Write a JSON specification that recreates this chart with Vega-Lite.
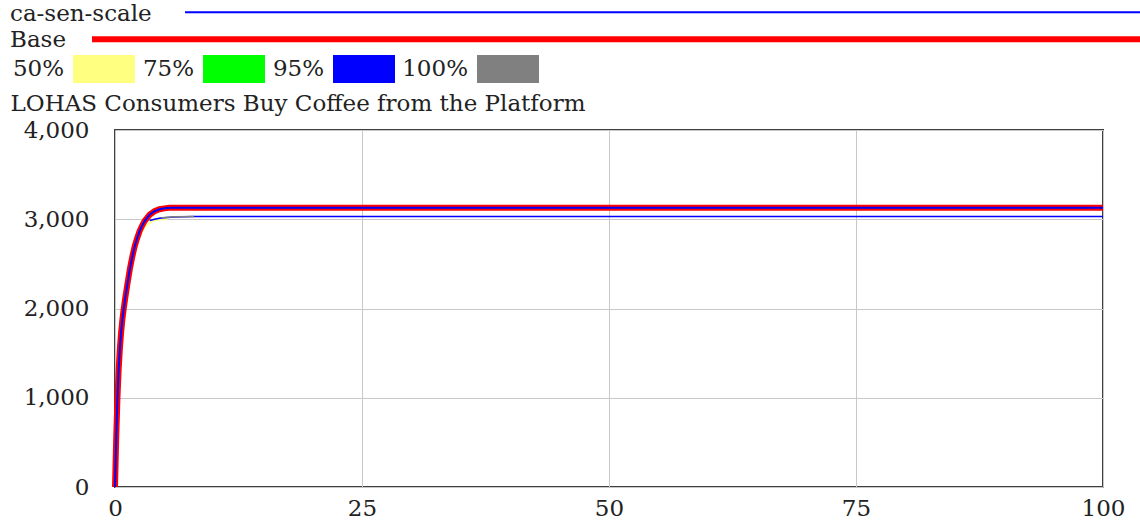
{
  "$schema": "https://vega.github.io/schema/vega-lite/v6.json",
  "width": 988,
  "height": 357,
  "autosize": {"type": "none"},
  "padding": {"left": 115, "top": 130, "right": 37, "bottom": 38},
  "background": "#ffffff",
  "datasets": {
    "runs": [
      {"series": "Base", "t": 0, "v": 0},
      {"series": "Base", "t": 0.125, "v": 560},
      {"series": "Base", "t": 0.25, "v": 1000},
      {"series": "Base", "t": 0.375, "v": 1330},
      {"series": "Base", "t": 0.5, "v": 1560},
      {"series": "Base", "t": 0.625, "v": 1740},
      {"series": "Base", "t": 0.75, "v": 1880},
      {"series": "Base", "t": 0.875, "v": 1990},
      {"series": "Base", "t": 1, "v": 2090},
      {"series": "Base", "t": 1.25, "v": 2270},
      {"series": "Base", "t": 1.5, "v": 2440},
      {"series": "Base", "t": 1.75, "v": 2580},
      {"series": "Base", "t": 2, "v": 2700},
      {"series": "Base", "t": 2.25, "v": 2790},
      {"series": "Base", "t": 2.5, "v": 2870},
      {"series": "Base", "t": 2.75, "v": 2930},
      {"series": "Base", "t": 3, "v": 2980},
      {"series": "Base", "t": 3.5, "v": 3050},
      {"series": "Base", "t": 4, "v": 3090},
      {"series": "Base", "t": 4.5, "v": 3112},
      {"series": "Base", "t": 5, "v": 3122},
      {"series": "Base", "t": 5.5, "v": 3128},
      {"series": "Base", "t": 6, "v": 3130},
      {"series": "Base", "t": 100, "v": 3130},
      {"series": "ca-sen-scale", "t": 0, "v": 0},
      {"series": "ca-sen-scale", "t": 0.125, "v": 560},
      {"series": "ca-sen-scale", "t": 0.25, "v": 1000},
      {"series": "ca-sen-scale", "t": 0.375, "v": 1330},
      {"series": "ca-sen-scale", "t": 0.5, "v": 1560},
      {"series": "ca-sen-scale", "t": 0.625, "v": 1740},
      {"series": "ca-sen-scale", "t": 0.75, "v": 1880},
      {"series": "ca-sen-scale", "t": 0.875, "v": 1990},
      {"series": "ca-sen-scale", "t": 1, "v": 2090},
      {"series": "ca-sen-scale", "t": 1.25, "v": 2270},
      {"series": "ca-sen-scale", "t": 1.5, "v": 2440},
      {"series": "ca-sen-scale", "t": 1.75, "v": 2580},
      {"series": "ca-sen-scale", "t": 2, "v": 2700},
      {"series": "ca-sen-scale", "t": 2.25, "v": 2790},
      {"series": "ca-sen-scale", "t": 2.5, "v": 2870},
      {"series": "ca-sen-scale", "t": 2.75, "v": 2930},
      {"series": "ca-sen-scale", "t": 3, "v": 2980},
      {"series": "ca-sen-scale", "t": 3.5, "v": 3050},
      {"series": "ca-sen-scale", "t": 4, "v": 3090},
      {"series": "ca-sen-scale", "t": 4.5, "v": 3112},
      {"series": "ca-sen-scale", "t": 5, "v": 3122},
      {"series": "ca-sen-scale", "t": 5.5, "v": 3128},
      {"series": "ca-sen-scale", "t": 6, "v": 3130},
      {"series": "ca-sen-scale", "t": 100, "v": 3130}
    ],
    "bands": [
      {"band": "50%", "t": 1.75, "v": 2540},
      {"band": "50%", "t": 2, "v": 2650},
      {"band": "50%", "t": 2.5, "v": 2810},
      {"band": "50%", "t": 3, "v": 2910},
      {"band": "50%", "t": 3.5, "v": 2960},
      {"band": "50%", "t": 4, "v": 2985},
      {"band": "50%", "t": 4.5, "v": 2995},
      {"band": "50%", "t": 5.3, "v": 3000},
      {"band": "95%", "t": 3.5, "v": 2985},
      {"band": "95%", "t": 4, "v": 3000},
      {"band": "95%", "t": 4.5, "v": 3010},
      {"band": "95%", "t": 5, "v": 3018},
      {"band": "95%", "t": 6, "v": 3026},
      {"band": "95%", "t": 8, "v": 3030},
      {"band": "95%", "t": 100, "v": 3030},
      {"band": "100%", "t": 4.75, "v": 3018},
      {"band": "100%", "t": 5, "v": 3020},
      {"band": "100%", "t": 6, "v": 3027},
      {"band": "100%", "t": 8, "v": 3030}
    ]
  },
  "config": {
    "view": {"stroke": "#404040", "strokeWidth": 2},
    "font": "DejaVu Serif",
    "axis": {
      "labelFont": "DejaVu Serif",
      "labelFontSize": 23,
      "labelColor": "#222222",
      "grid": true,
      "gridColor": "#c8c8c8",
      "gridWidth": 1,
      "domain": false,
      "ticks": false,
      "labelFlush": false
    },
    "legend": {
      "labelFont": "DejaVu Serif",
      "labelFontSize": 23,
      "labelColor": "#222222",
      "padding": 0,
      "orient": "none",
      "labelLimit": 0
    }
  },
  "encoding": {
    "x": {
      "field": "t",
      "type": "quantitative",
      "scale": {"domain": [0, 100], "nice": false, "zero": false},
      "axis": {"values": [0, 25, 50, 75, 100], "title": null, "labelPadding": 10}
    },
    "y": {
      "field": "v",
      "type": "quantitative",
      "scale": {"domain": [0, 4000], "nice": false},
      "axis": {
        "values": [0, 1000, 2000, 3000, 4000],
        "format": ",d",
        "labelPadding": 26,
        "title": "LOHAS Consumers Buy Coffee from the Platform",
        "titleAngle": 0,
        "titleX": -105,
        "titleY": -20,
        "titleAlign": "left",
        "titleBaseline": "alphabetic",
        "titleFont": "DejaVu Serif",
        "titleFontSize": 23,
        "titleFontWeight": "normal",
        "titleColor": "#222222"
      }
    }
  },
  "layer": [
    {
      "data": {"name": "bands"},
      "transform": [{"filter": "datum.band === '50%'"}],
      "mark": {"type": "line", "strokeWidth": 1.5},
      "encoding": {
        "color": {
          "field": "band",
          "type": "nominal",
          "scale": {"domain": ["50%", "75%", "95%", "100%"], "range": ["#ffff80", "#00ff00", "#0000ff", "#808080"]},
          "legend": {
            "title": null,
            "orient": "none",
            "legendX": -42,
            "legendY": -92,
            "direction": "horizontal",
            "symbolType": "M-1,-0.4516H1V0.4516H-1Z",
            "symbolSize": 3844,
            "symbolStrokeWidth": 0,
            "labelAlign": "right",
            "labelBaseline": "middle",
            "labelOffset": -71,
            "columnPadding": 7,
            "encode": {
              "symbols": {
                "update": {
                  "fill": {"signal": "scale('color', datum.value)"},
                  "fillOpacity": {"value": 1},
                  "opacity": {"value": 1},
                  "strokeWidth": {"value": 0}
                }
              }
            }
          }
        }
      }
    },
    {
      "data": {"name": "bands"},
      "transform": [{"filter": "datum.band === '95%'"}],
      "mark": {"type": "line", "strokeWidth": 1.5},
      "encoding": {
        "color": {
          "field": "band",
          "type": "nominal",
          "scale": {"domain": ["50%", "75%", "95%", "100%"], "range": ["#ffff80", "#00ff00", "#0000ff", "#808080"]},
          "legend": {
            "title": null,
            "orient": "none",
            "legendX": -42,
            "legendY": -92,
            "direction": "horizontal",
            "symbolType": "M-1,-0.4516H1V0.4516H-1Z",
            "symbolSize": 3844,
            "symbolStrokeWidth": 0,
            "labelAlign": "right",
            "labelBaseline": "middle",
            "labelOffset": -71,
            "columnPadding": 7,
            "encode": {
              "symbols": {
                "update": {
                  "fill": {"signal": "scale('color', datum.value)"},
                  "fillOpacity": {"value": 1},
                  "opacity": {"value": 1},
                  "strokeWidth": {"value": 0}
                }
              }
            }
          }
        }
      }
    },
    {
      "data": {"name": "bands"},
      "transform": [{"filter": "datum.band === '100%'"}],
      "mark": {"type": "line", "strokeWidth": 1.5},
      "encoding": {
        "color": {
          "field": "band",
          "type": "nominal",
          "scale": {"domain": ["50%", "75%", "95%", "100%"], "range": ["#ffff80", "#00ff00", "#0000ff", "#808080"]},
          "legend": {
            "title": null,
            "orient": "none",
            "legendX": -42,
            "legendY": -92,
            "direction": "horizontal",
            "symbolType": "M-1,-0.4516H1V0.4516H-1Z",
            "symbolSize": 3844,
            "symbolStrokeWidth": 0,
            "labelAlign": "right",
            "labelBaseline": "middle",
            "labelOffset": -71,
            "columnPadding": 7,
            "encode": {
              "symbols": {
                "update": {
                  "fill": {"signal": "scale('color', datum.value)"},
                  "fillOpacity": {"value": 1},
                  "opacity": {"value": 1},
                  "strokeWidth": {"value": 0}
                }
              }
            }
          }
        }
      }
    },
    {
      "data": {"name": "runs"},
      "transform": [{"filter": "datum.series === 'Base'"}],
      "mark": {"type": "line", "color": "#ff0000", "strokeWidth": 6},
      "encoding": {
        "opacity": {
          "field": "series",
          "type": "ordinal",
          "scale": {"domain": ["Base"], "range": [1]},
          "legend": {
            "title": null,
            "orient": "none",
            "legendX": -26,
            "legendY": -643.7,
            "symbolType": "stroke",
            "symbolSize": 1210000,
            "symbolStrokeColor": "#ff0000",
            "symbolStrokeWidth": 6,
            "labelOffset": -1185,
            "labelAlign": "left",
            "labelBaseline": "middle",
            "encode": {"labels": {"update": {"dy": {"value": 1}}}}
          }
        }
      }
    },
    {
      "data": {"name": "runs"},
      "transform": [{"filter": "datum.series === 'ca-sen-scale'"}],
      "mark": {"type": "line", "color": "#0000ff", "strokeWidth": 2},
      "encoding": {
        "strokeDash": {
          "field": "series",
          "type": "nominal",
          "scale": {"domain": ["ca-sen-scale"], "range": [[1, 0]]},
          "legend": {
            "title": null,
            "orient": "none",
            "legendX": 69,
            "legendY": -618.7,
            "symbolType": "stroke",
            "symbolSize": 1000000,
            "symbolStrokeColor": "#0000ff",
            "symbolStrokeWidth": 2,
            "labelOffset": -1176,
            "labelAlign": "left",
            "labelBaseline": "middle",
            "encode": {"labels": {"update": {"dy": {"value": 2}}}}
          }
        }
      }
    }
  ]
}
